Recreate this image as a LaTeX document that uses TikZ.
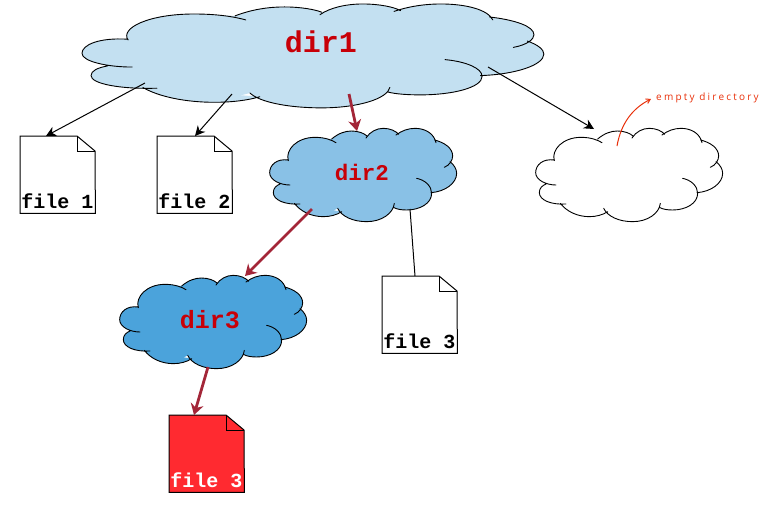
\documentclass[tikz,border=0pt]{standalone}
\usepackage{fontspec}
\setmonofont{Liberation Mono}
\newfontfamily\notefont[LetterSpace=22]{Open Sans}
\usetikzlibrary{arrows.meta}
\definecolor{cOne}{HTML}{C3E0F1}
\definecolor{cTwo}{HTML}{89C1E6}
\definecolor{cThree}{HTML}{4BA3DB}
\definecolor{dirtext}{HTML}{C80008}
\definecolor{wine}{HTML}{A32638}
\definecolor{redfile}{HTML}{FF2A30}
\definecolor{note}{HTML}{E8300A}
\tikzset{
  lobe/.style={draw=black,line width=0.9pt,line cap=round},
  dirlabel/.style={font=\ttfamily\bfseries,text=dirtext,inner sep=0pt},
  filelabel/.style={font=\ttfamily\bfseries\fontsize{20}{20}\selectfont,inner sep=0pt,anchor=base},
  filebody/.style={draw=black,line width=1pt,line join=miter},
  thinarrow/.style={draw=black,line width=1pt,-{Stealth[length=10pt,width=10pt]}},
  winearrow/.style={draw=wine,line width=2.8pt,-{Stealth[length=11pt,width=13pt]}},
  plainline/.style={draw=black,line width=1pt},
  notearrow/.style={draw=note,line width=1pt,-{Straight Barb[length=4pt,width=5pt]}}
}
\newcommand\cloudpath[2]{%
  \path[#1]
  (85,120) .. controls (50,115) and (29,135) .. (29,158) .. controls (29,180) and (60,195) .. (90,195) #2
  (85,122) .. controls (75,90) and (110,52) .. (165,52) .. controls (195,52) and (215,60) .. (228,68) #2
  (215,57) .. controls (235,40) and (255,33) .. (275,33) .. controls (295,33) and (312,40) .. (320,47) #2
  (318,54) .. controls (330,35) and (350,25) .. (370,25) .. controls (390,25) and (408,33) .. (416,43) #2
  (408,45) .. controls (425,32) and (445,25) .. (465,25) .. controls (495,25) and (522,40) .. (528,68) #2
  (524,60) .. controls (555,68) and (578,85) .. (578,108) .. controls (578,120) and (570,135) .. (553,142) #2
  (570,125) .. controls (583,135) and (590,148) .. (590,160) .. controls (590,190) and (555,215) .. (513,218) #2
  (470,175) .. controls (495,180) and (515,198) .. (515,220) .. controls (515,250) and (480,270) .. (440,270) .. controls (425,270) and (410,268) .. (400,262) #2
  (403,250) .. controls (400,280) and (365,305) .. (320,305) .. controls (280,305) and (245,290) .. (233,265) #2
  (245,275) .. controls (230,285) and (210,290) .. (190,290) .. controls (155,290) and (122,275) .. (103,250) #2
  (120,252) .. controls (75,255) and (40,240) .. (40,218) .. controls (40,205) and (48,197) .. (60,192) #2;}
\newcommand\cloudshape[5]{% x0,y0,xscale,yscale,fill
  \begin{scope}[shift={(#1,#2)},xscale=#3,yscale=#4]
    \fill[#5] (29,158) -- (85,120) -- (165,54) -- (215,57) -- (275,35) -- (320,47) -- (370,27) -- (416,43) -- (465,27) -- (526,64) -- (577,108) -- (570,125) -- (589,160) -- (513,217) -- (440,269) -- (400,262) -- (320,304) -- (233,265) -- (190,289) -- (103,250) -- (41,218) -- (60,192) -- cycle;
    \cloudpath{fill=#5}{-- cycle}
    \cloudpath{lobe}{}
  \end{scope}}
\newcommand\filedoc[6]{% name,x,y,fill,textcolor,label
  \node[minimum width=75pt,minimum height=77pt,inner sep=0pt,anchor=north west] (#1) at (#2,#3) {};
  \draw[filebody,fill=#4] (#1.north west) -- ++(57,0) -- ++(18,15) -- (#1.south east) -- (#1.south west) -- cycle;
  \draw[filebody] ([xshift=57pt]#1.north west) -- ++(0,15) -- ++(18,0);
  \node[filelabel,text=#5] (#1t) at ([xshift=37.5pt,yshift=5pt]#1.south west) {#6};}
\begin{document}
\begin{tikzpicture}[x=1pt,y=-1pt]
\useasboundingbox (0,0) rectangle (768,504);
% clouds
\cloudshape{58.1}{-5.3}{0.8233}{0.371}{cOne}
\cloudshape{260}{120}{0.3333}{0.3333}{cTwo}
\cloudshape{110}{267}{0.3333}{0.3333}{cThree}
\cloudshape{526}{120}{0.3333}{0.3333}{white}
\node[dirlabel,font=\ttfamily\bfseries\fontsize{30}{30}\selectfont] (dirA) at (321,42) {dir1};
\node[dirlabel,font=\ttfamily\bfseries\fontsize{22.5}{22.5}\selectfont] (dirB) at (362,172) {dir2};
\node[dirlabel,font=\ttfamily\bfseries\fontsize{25}{25}\selectfont] (dirC) at (210,320) {dir3};
% files
\filedoc{fileA}{20}{136}{white}{black}{file 1}
\filedoc{fileB}{157}{136}{white}{black}{file 2}
\filedoc{fileC}{382}{276}{white}{black}{file 3}
\filedoc{fileD}{169}{415}{redfile}{white}{file 3}
% connector ends
\coordinate (a1) at (145,83);
\coordinate (a2) at (46,136);
\coordinate (b1) at (232,94);
\coordinate (b2) at (195,136);
\coordinate (c1) at (349,94);
\coordinate (c2) at (357,131);
\coordinate (d1) at (312,209);
\coordinate (d2) at (245,276);
\coordinate (e1) at (208,367);
\coordinate (e2) at (194,415);
\coordinate (g1) at (410,209);
\coordinate (g2) at (415,276);
\coordinate (h1) at (488,67);
\coordinate (h2) at (594,129);
\coordinate (n1) at (617,146);
\coordinate (n2) at (651,99);
\draw[thinarrow] (a1) -- (a2);
\draw[thinarrow] (b1) -- (b2);
\draw[winearrow] (c1) -- (c2);
\draw[winearrow] (d1) -- (d2);
\draw[winearrow] (e1) -- (e2);
\draw[plainline] (g1) -- (g2);
\draw[thinarrow] (h1) -- (h2);
\draw[notearrow] (n1) .. controls (621,123) and (633,108) .. (n2);
\node[inner sep=0pt,anchor=west,text=note,font=\notefont\fontsize{10}{10}\selectfont] (noteA) at (656,98) {empty directory};
\end{tikzpicture}
\end{document}
